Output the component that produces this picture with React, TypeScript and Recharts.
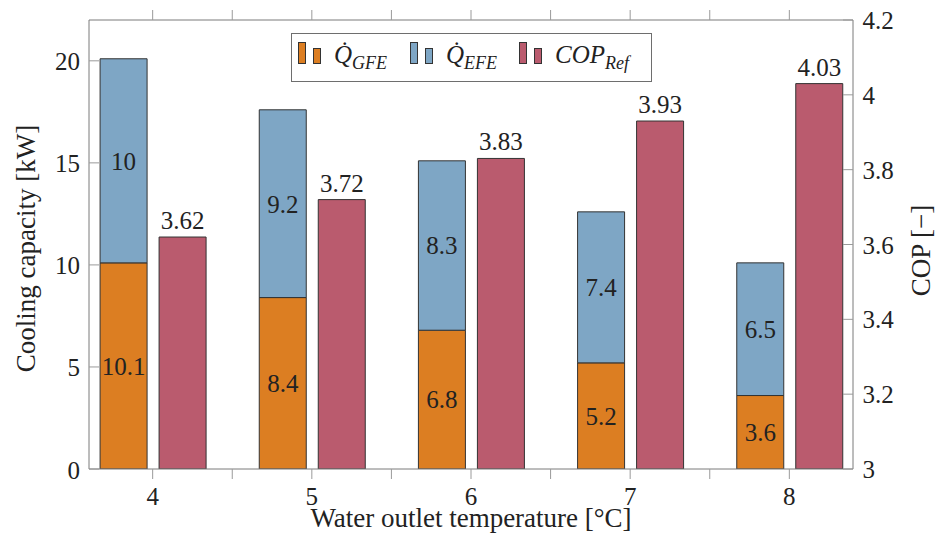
import React from 'react';
import { ComposedChart, Bar, XAxis, YAxis, LabelList, Legend, Label } from 'recharts';

// ---- data ----
const temperatures = [4, 5, 6, 7, 8];
const qGFE = [10.1, 8.4, 6.8, 5.2, 3.6];
const qEFE = [10, 9.2, 8.3, 7.4, 6.5];
const copRef = [3.62, 3.72, 3.83, 3.93, 4.03];
const xTicks = [4, 4.5, 5, 5.5, 6, 6.5, 7, 7.5, 8];
const xTickLabels = ['4', '', '5', '', '6', '', '7', '', '8'];
const leftTicks = [0, 5, 10, 15, 20];
const rightTicks = [3, 3.2, 3.4, 3.6, 3.8, 4, 4.2];
const xDomain = [3.6, 8.4];
const leftDomain = [0, 22];
const rightDomain = [3, 4.2];

const data = temperatures.map((t, i) => ({ t, gfe: qGFE[i], efe: qEFE[i], cop: copRef[i] }));

const FONT = 'Liberation Serif, Times New Roman, serif';
const COLORS = { gfe: '#DC7E22', efe: '#7EA6C5', cop: '#BA5B6E' };
const TEXT = '#222222';
const TICKLINE = '#9a9a9a';
const FRAME = '#7a7a7a';
const BORDER = '#333333';
const NUM_SIZE = 25;
const TITLE_SIZE = 27;

const BottomTick = (props: any) => {
  const { x, y, payload } = props;
  const label = xTickLabels[xTicks.indexOf(payload.value)];
  return (
    <g>
      <line x1={x} x2={x} y1={y} y2={y + 10} stroke={TICKLINE} strokeWidth={1} />
      {label ? (
        <text x={x} y={y + 36} textAnchor="middle" fontSize={NUM_SIZE} fontFamily={FONT} fill={TEXT}>
          {label}
        </text>
      ) : null}
    </g>
  );
};

const TopTick = (props: any) => {
  const { x, y } = props;
  return <line x1={x} x2={x} y1={y} y2={y - 10} stroke={TICKLINE} strokeWidth={1} />;
};

const LeftTick = (props: any) => {
  const { x, y, payload } = props;
  return (
    <g>
      <line x1={x} x2={x + 10} y1={y} y2={y} stroke={TICKLINE} strokeWidth={1} />
      <text x={x - 9} y={y + 9.5} textAnchor="end" fontSize={NUM_SIZE} fontFamily={FONT} fill={TEXT}>
        {String(payload.value)}
      </text>
    </g>
  );
};

const RightTick = (props: any) => {
  const { x, y, payload } = props;
  return (
    <g>
      <line x1={x} x2={x - 10} y1={y} y2={y} stroke={TICKLINE} strokeWidth={1} />
      <text x={x + 9.5} y={y + 9} textAnchor="start" fontSize={NUM_SIZE} fontFamily={FONT} fill={TEXT}>
        {String(payload.value)}
      </text>
    </g>
  );
};

const LeftTitle = (props: any) => {
  const vb = props.viewBox || { x: 0, y: 20, width: 89, height: 449 };
  const bx = vb.x + 35;
  const cy = vb.y + vb.height / 2 + 4;
  return (
    <text x={bx} y={cy} transform={`rotate(-90, ${bx}, ${cy})`} textAnchor="middle" fontSize={TITLE_SIZE} fontFamily={FONT} fill={TEXT}>
      Cooling capacity [kW]
    </text>
  );
};

const RightTitle = (props: any) => {
  const vb = props.viewBox || { x: 853, y: 20, width: 87, height: 449 };
  const bx = vb.x + 77;
  const cy = vb.y + vb.height / 2 + 6;
  return (
    <text x={bx} y={cy} transform={`rotate(-90, ${bx}, ${cy})`} textAnchor="middle" fontSize={TITLE_SIZE} fontFamily={FONT} fill={TEXT}>
      COP [−]
    </text>
  );
};

const BottomTitle = (props: any) => {
  const vb = props.viewBox || { x: 89, y: 469, width: 764, height: 68 };
  return (
    <text x={vb.x + vb.width / 2} y={vb.y + 58} textAnchor="middle" fontSize={TITLE_SIZE} fontFamily={FONT} fill={TEXT}>
      Water outlet temperature [°C]
    </text>
  );
};

const legendItems = [
  { key: 'gfe', main: 'Q\u0307', sub: 'GFE', x: 7 },
  { key: 'efe', main: 'Q\u0307', sub: 'EFE', x: 119 },
  { key: 'cop', main: 'COP', sub: 'Ref', x: 228 },
];

const LegendBox = () => (
  <svg width={362} height={50} style={{ display: 'block' }}>
    <rect x={0.5} y={0.5} width={360} height={48} fill="#ffffff" stroke="#6e6e6e" strokeWidth={1} />
    {legendItems.map((it) => (
      <g key={it.key}>
        <rect x={it.x + 0.5} y={9.5} width={7} height={21} fill={(COLORS as any)[it.key]} stroke={BORDER} strokeWidth={1} />
        <rect x={it.x + 15.5} y={15.5} width={7} height={15} fill={(COLORS as any)[it.key]} stroke={BORDER} strokeWidth={1} />
        <text x={it.x + 36} y={30} fontStyle="italic" fontSize={25} fontFamily={FONT} fill={TEXT}>
          {it.main}
          <tspan fontSize={18} dy={6}>{it.sub}</tspan>
        </text>
      </g>
    ))}
  </svg>
);

export default function App() {
  return (
    <div style={{ position: 'absolute', left: 0, top: 0, width: 940, height: 537, background: '#ffffff' }}>
      <ComposedChart
        width={940}
        height={537}
        data={data}
        margin={{ top: 10, right: 0, bottom: 0, left: 0 }}
        barSize={47}
        barGap={12}
      >
        <XAxis
          xAxisId="bottom"
          dataKey="t"
          type="number"
          domain={xDomain}
          ticks={xTicks}
          allowDataOverflow
          interval={0}
          height={68}
          tickSize={0}
          tickMargin={0}
          tickLine={false}
          axisLine={{ stroke: FRAME, strokeWidth: 1 }}
          tick={<BottomTick />}
        >
          <Label content={<BottomTitle />} />
        </XAxis>
        <XAxis xAxisId="bars" dataKey="t" type="number" domain={xDomain} ticks={temperatures} allowDataOverflow height={0} hide />
        <XAxis
          xAxisId="top"
          orientation="top"
          dataKey="t"
          type="number"
          domain={xDomain}
          ticks={xTicks}
          allowDataOverflow
          interval={0}
          height={10}
          tickSize={0}
          tickMargin={0}
          tickLine={false}
          axisLine={{ stroke: FRAME, strokeWidth: 1 }}
          tick={<TopTick />}
        />
        <YAxis
          yAxisId="left"
          domain={leftDomain}
          ticks={leftTicks}
          allowDataOverflow
          interval={0}
          width={89}
          tickSize={0}
          tickMargin={0}
          tickLine={false}
          axisLine={{ stroke: FRAME, strokeWidth: 1 }}
          tick={<LeftTick />}
        >
          <Label content={<LeftTitle />} />
        </YAxis>
        <YAxis
          yAxisId="right"
          orientation="right"
          domain={rightDomain}
          ticks={rightTicks}
          allowDataOverflow
          interval={0}
          width={87}
          tickSize={0}
          tickMargin={0}
          tickLine={false}
          axisLine={{ stroke: FRAME, strokeWidth: 1 }}
          tick={<RightTick />}
        >
          <Label content={<RightTitle />} />
        </YAxis>
        <Legend
          layout="horizontal"
          verticalAlign="middle"
          align="center"
          wrapperStyle={{ left: 291, top: 33, width: 362, height: 50 }}
          content={<LegendBox />}
        />
        <Bar dataKey="gfe" xAxisId="bars" yAxisId="left" stackId="q" fill={COLORS.gfe} stroke={BORDER} strokeWidth={1} isAnimationActive={false}>
          <LabelList dataKey="gfe" position="center" fontSize={NUM_SIZE} fontFamily={FONT} fill={TEXT} />
        </Bar>
        <Bar dataKey="efe" xAxisId="bars" yAxisId="left" stackId="q" fill={COLORS.efe} stroke={BORDER} strokeWidth={1} isAnimationActive={false}>
          <LabelList dataKey="efe" position="center" fontSize={NUM_SIZE} fontFamily={FONT} fill={TEXT} />
        </Bar>
        <Bar dataKey="cop" xAxisId="bars" yAxisId="right" fill={COLORS.cop} stroke={BORDER} strokeWidth={1} isAnimationActive={false}>
          <LabelList dataKey="cop" position="top" offset={8} fontSize={NUM_SIZE} fontFamily={FONT} fill={TEXT} />
        </Bar>
      </ComposedChart>
    </div>
  );
}
